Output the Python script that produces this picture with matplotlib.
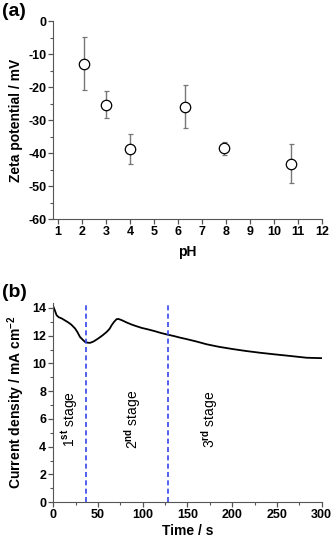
import matplotlib
matplotlib.use('Agg')
import matplotlib.pyplot as plt
import numpy as np

plt.rcParams['font.family'] = ['Liberation Sans', 'DejaVu Sans']
plt.rcParams['font.weight'] = 'bold'
plt.rcParams['axes.unicode_minus'] = False
plt.rcParams['mathtext.fontset'] = 'custom'
plt.rcParams['mathtext.rm'] = 'Liberation Sans'
plt.rcParams['mathtext.bf'] = 'Liberation Sans:bold'

# (a) zeta potential vs pH
ph = [2.1, 3.0, 4.0, 6.3, 7.9, 10.7]
zeta = [-12.9, -25.3, -38.7, -25.9, -38.6, -43.2]
zeta_err = [8.0, 4.0, 4.6, 6.4, 2.1, 5.9]

# (b) current density vs time
time = [0, 1.5, 3.7, 6, 9.4, 13, 16.8, 20, 24.3, 27, 29.8, 33, 35.4, 38, 41, 45, 50.3, 55,
        59.7, 63, 65.3, 68, 70.8, 73, 76.4, 82, 87.6, 93, 98.8, 106, 113.7, 120, 126.8,
        135, 141.6, 147.2, 160, 171.4, 185, 201.2, 215, 231, 248, 264.6, 283.2, 300]
current = [14.1, 13.85, 13.47, 13.33, 13.24, 13.1, 12.95, 12.8, 12.52, 12.25, 11.91, 11.7,
           11.55, 11.5, 11.48, 11.58, 11.8, 12.02, 12.27, 12.5, 12.76, 13.0, 13.19, 13.2,
           13.12, 12.95, 12.8, 12.68, 12.56, 12.45, 12.32, 12.2, 12.09, 11.97, 11.86, 11.78,
           11.58, 11.38, 11.2, 11.03, 10.9, 10.77, 10.65, 10.54, 10.41, 10.38]
stage_bounds = [36.5, 128.6]
stage_x = [18.7, 89, 175]
stage_text = ['1$^{\\rm st}$ stage', '2$^{\\rm nd}$ stage', '3$^{\\rm rd}$ stage']

axis_col = '#555555'

fig = plt.figure(figsize=(3.32, 5.41), dpi=100)
ax1 = fig.add_axes([0.1606, 0.595, 0.809, 0.366])
ax2 = fig.add_axes([0.1606, 0.0716, 0.808, 0.368])

ax1.errorbar(ph, zeta, yerr=zeta_err, fmt='o', mfc='white', mec='black', mew=0.9,
             ms=7.5, ecolor='#777777', elinewidth=1.0, capsize=1.8, capthick=1.0, zorder=3)
ax1.set_xlim(0.8, 12)
ax1.set_ylim(-60, 0)
ax1.set_xticks(range(1, 13))
ax1.set_yticks(range(-60, 1, 10))
ax1.set_yticks(range(-55, 0, 10), minor=True)
ax1.set_xlabel('pH', fontsize=10, fontweight='bold', labelpad=5)
ax1.set_ylabel('Zeta potential / mV', fontsize=10, fontweight='bold', labelpad=4)

ax2.plot(time, current, color='black', lw=1.3)
for xb in stage_bounds:
    ax2.axvline(xb, color='#3344ee', ls=(0, (3, 2)), lw=1.2)
for xs, txt in zip(stage_x, stage_text):
    ax2.text(xs, 6.0, txt, rotation=90, ha='center', va='center', fontsize=10,
             fontweight='normal')
ax2.set_xlim(0, 300)
ax2.set_ylim(0, 14.34)
ax2.set_xticks(range(0, 301, 50))
ax2.set_xticks(range(25, 300, 50), minor=True)
ax2.set_yticks(range(0, 15, 2))
ax2.set_yticks(range(1, 15, 2), minor=True)
ax2.set_xlabel('Time / s', fontsize=10, fontweight='bold', labelpad=2)
ax2.set_ylabel('Current density / mA cm$^{\\mathbf{-2}}$', fontsize=10,
               fontweight='bold', labelpad=4)

for ax in (ax1, ax2):
    ax.spines['top'].set_visible(False)
    ax.spines['right'].set_visible(False)
    ax.spines['left'].set_color(axis_col)
    ax.spines['bottom'].set_color(axis_col)
    ax.tick_params(which='major', direction='out', length=3.5, width=0.9, color=axis_col,
                   labelsize=9, pad=1.5)
    ax.tick_params(which='minor', direction='out', length=2, width=0.8, color=axis_col)
    for lab in ax.get_xticklabels() + ax.get_yticklabels():
        lab.set_fontweight('bold')

fig.text(0.005, 0.995, '(a)', fontsize=14, fontweight='bold', va='top', ha='left')
fig.text(0.005, 0.475, '(b)', fontsize=14, fontweight='bold', va='top', ha='left')

fig.savefig('out.png', dpi=100)
